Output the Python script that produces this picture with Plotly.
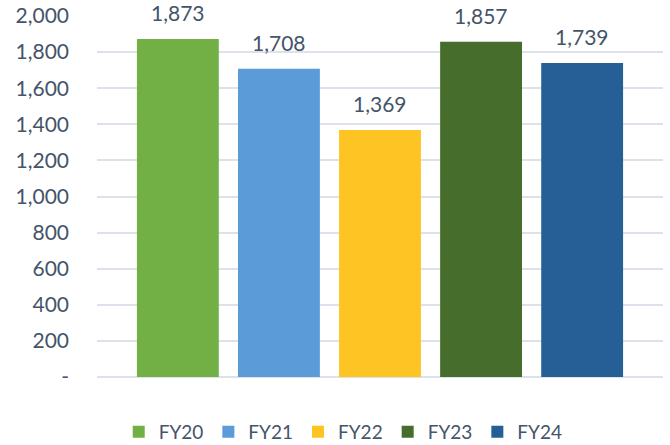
import plotly.graph_objects as go

categories = ["FY20", "FY21", "FY22", "FY23", "FY24"]
values = [1873, 1708, 1369, 1857, 1739]
colors = ["#72b046", "#5b9bd8", "#fec424", "#476d2c", "#265f96"]
tick_vals = [0, 200, 400, 600, 800, 1000, 1200, 1400, 1600, 1800, 2000]
tick_text = ["-", "200", "400", "600", "800", "1,000", "1,200", "1,400", "1,600", "1,800", "2,000"]

text_color = "#44546a"
font_family = "Lato, 'Open Sans', sans-serif"

fig = go.Figure()
for cat, val, col in zip(categories, values, colors):
    fig.add_trace(go.Bar(
        x=[cat], y=[val], name=cat,
        marker=dict(color=col, line=dict(width=0)),
        width=0.81,
        hoverinfo="skip",
    ))
    fig.add_annotation(
        x=cat, y=val, text=f"{val:,}", showarrow=False,
        yanchor="bottom", yshift=12,
        font=dict(size=21, color=text_color, family=font_family),
    )

fig.update_layout(
    width=670, height=445,
    margin=dict(l=97, r=7, t=16, b=68, autoexpand=False),
    paper_bgcolor="white", plot_bgcolor="white",
    barmode="overlay",
    showlegend=True,
    legend=dict(
        orientation="h", x=0.435, xanchor="center", y=-0.152, yanchor="middle",
        font=dict(size=19, color=text_color, family=font_family),
        itemwidth=30, traceorder="normal",
    ),
    font=dict(family=font_family, color=text_color),
)
fig.update_xaxes(
    type="category", range=[-0.8, 4.8],
    showticklabels=False, showgrid=False, zeroline=False, showline=False,
)
fig.update_yaxes(
    range=[0, 2000], tickvals=tick_vals, ticktext=tick_text,
    showgrid=True, gridcolor="#dde2ea", gridwidth=2,
    zeroline=True, zerolinecolor="#dde2ea", zerolinewidth=2,
    tickfont=dict(size=21, color=text_color, family=font_family),
    ticklabelstandoff=27, automargin=False, ticklabeloverflow="allow",
)

# remove the browser's default 8px page margin so the figure sits at the window origin
fig.write_html(
    "out.html",
    config={"displayModeBar": False},
    post_script="document.body.style.margin='0';",
)
